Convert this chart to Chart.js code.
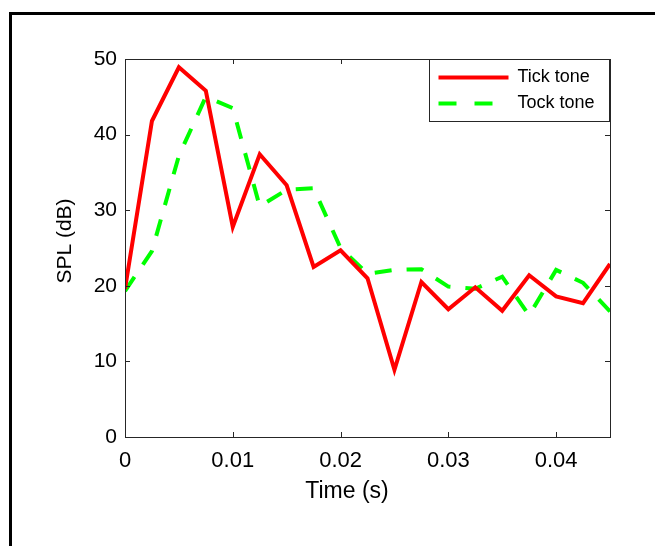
<!DOCTYPE html>
<html>
<head>
<meta charset="utf-8">
<script src="https://cdn.jsdelivr.net/npm/chart.js@4.4.0/dist/chart.umd.min.js"></script>
<style>
  html, body { margin: 0; padding: 0; background: #fff; overflow: hidden; }
  #wrap { position: relative; width: 655px; height: 546px; }
  #frame { position: absolute; left: 9px; top: 12px; width: 700px; height: 600px; border: 3px solid #000; box-sizing: border-box; }
  canvas { position: absolute; left: 0; top: 0; }
</style>
</head>
<body>
<div id="wrap">
  <div id="frame"></div>
  <canvas id="chart" width="655" height="546"></canvas>
</div>
<script>
// ── data ──
const TIME = [0, 0.0025, 0.005, 0.0075, 0.01, 0.0125, 0.015, 0.0175, 0.02, 0.0225,
              0.025, 0.0275, 0.03, 0.0325, 0.035, 0.0375, 0.04, 0.0425, 0.045];
const TICK_TONE = [19.6, 41.8, 48.9, 45.8, 27.8, 37.4, 33.3, 22.5, 24.7, 21.0,
                   8.9, 20.5, 16.9, 19.8, 16.7, 21.4, 18.6, 17.7, 22.9];
const TOCK_TONE = [19.3, 24.6, 37.2, 45.0, 43.5, 30.5, 32.7, 32.9, 25.0, 21.6,
                   22.1, 22.2, 19.9, 19.6, 21.2, 16.1, 22.1, 20.4, 16.6];
const SERIES_NAMES = ['Tick tone', 'Tock tone'];
const X_TICKS = [0, 0.01, 0.02, 0.03, 0.04];
const Y_TICKS = [0, 10, 20, 30, 40, 50];
const X_TITLE = 'Time (s)';
const Y_TITLE = 'SPL (dB)';

const FONT = '"Liberation Sans", Arial, sans-serif';
const AXIS_COLOR = '#262626';

// box round the axes + inward tick marks on all four sides (matlab style)
const boxPlugin = {
  id: 'box',
  afterDatasetsDraw(chart) {
    const { ctx, chartArea: a, scales: { x, y } } = chart;
    ctx.save();
    ctx.strokeStyle = AXIS_COLOR;
    ctx.lineWidth = 1;
    ctx.strokeRect(a.left + 0.5, a.top + 0.5, a.right - a.left, a.bottom - a.top);
    ctx.beginPath();
    X_TICKS.forEach(v => {
      const px = Math.round(x.getPixelForValue(v)) + 0.5;
      ctx.moveTo(px, a.bottom); ctx.lineTo(px, a.bottom - 5);
      ctx.moveTo(px, a.top); ctx.lineTo(px, a.top + 5);
    });
    Y_TICKS.forEach(v => {
      const py = Math.round(y.getPixelForValue(v)) + 0.5;
      ctx.moveTo(a.left, py); ctx.lineTo(a.left + 5, py);
      ctx.moveTo(a.right, py); ctx.lineTo(a.right - 5, py);
    });
    ctx.stroke();

    // axis titles (the reference has them a bit off-centre)
    ctx.fillStyle = '#000';
    ctx.textAlign = 'center';
    ctx.textBaseline = 'middle';
    ctx.font = '23px ' + FONT;
    ctx.fillText(X_TITLE, a.left + 222, a.bottom + 55);
    ctx.translate(a.left - 60, a.top + 182);
    ctx.rotate(-Math.PI / 2);
    ctx.font = '21px ' + FONT;
    ctx.fillText(Y_TITLE, 0, 0);
    ctx.restore();
  }
};

// legend box in the top right corner of the axes
const legendPlugin = {
  id: 'boxLegend',
  afterDraw(chart) {
    const { ctx, chartArea: a } = chart;
    const w = 180, h = 62;
    const x0 = a.right - w - 0.5, y0 = a.top + 0.5;
    ctx.save();
    ctx.fillStyle = '#fff';
    ctx.fillRect(x0, y0, w, h);
    ctx.strokeStyle = AXIS_COLOR;
    ctx.lineWidth = 1;
    ctx.strokeRect(x0, y0, w, h);
    ctx.font = '18px ' + FONT;
    ctx.textBaseline = 'middle';
    ctx.fillStyle = '#000';
    chart.data.datasets.forEach((ds, i) => {
      const ly = y0 + 18 + i * 26;
      ctx.strokeStyle = ds.borderColor;
      ctx.lineWidth = 4;
      ctx.setLineDash(i === 0 ? [] : [18, 18]);
      ctx.beginPath();
      ctx.moveTo(x0 + 9, ly); ctx.lineTo(x0 + 79, ly);
      ctx.stroke();
      ctx.setLineDash([]);
      ctx.fillText(ds.label, x0 + 88, ly);
    });
    ctx.restore();
  }
};

new Chart(document.getElementById('chart'), {
  type: 'line',
  data: {
    labels: TIME,
    datasets: [
      {
        label: SERIES_NAMES[0],
        data: TIME.map((t, i) => ({ x: t, y: TICK_TONE[i] })),
        borderColor: '#ff0000',
        borderWidth: 4,
        pointRadius: 0,
        tension: 0,
        borderJoinStyle: 'miter'
      },
      {
        label: SERIES_NAMES[1],
        data: TIME.map((t, i) => ({ x: t, y: TOCK_TONE[i] })),
        borderColor: '#00ff00',
        borderWidth: 4,
        borderDash: [17, 15],
        pointRadius: 0,
        tension: 0
      }
    ]
  },
  options: {
    responsive: false,
    animation: false,
    devicePixelRatio: 1,
    layout: { padding: { left: 0, top: 59, right: 45, bottom: 0 } },
    plugins: { legend: { display: false }, tooltip: { enabled: false } },
    scales: {
      x: {
        type: 'linear',
        min: 0, max: 0.045,
        afterFit: s => { s.height = 109; },
        afterBuildTicks: s => { s.ticks = X_TICKS.map(v => ({ value: v })); },
        grid: { display: false, drawTicks: false },
        border: { display: false },
        ticks: {
          color: '#000', padding: 11,
          font: { family: FONT, size: 22 },
          callback: v => String(+v.toFixed(3))
        }
      },
      y: {
        min: 0, max: 50,
        afterFit: s => { s.width = 125; },
        afterBuildTicks: s => { s.ticks = Y_TICKS.map(v => ({ value: v })); },
        grid: { display: false, drawTicks: false },
        border: { display: false },
        ticks: { color: '#000', padding: 8, font: { family: FONT, size: 21 } }
      }
    }
  },
  plugins: [boxPlugin, legendPlugin]
});
</script>
</body>
</html>
